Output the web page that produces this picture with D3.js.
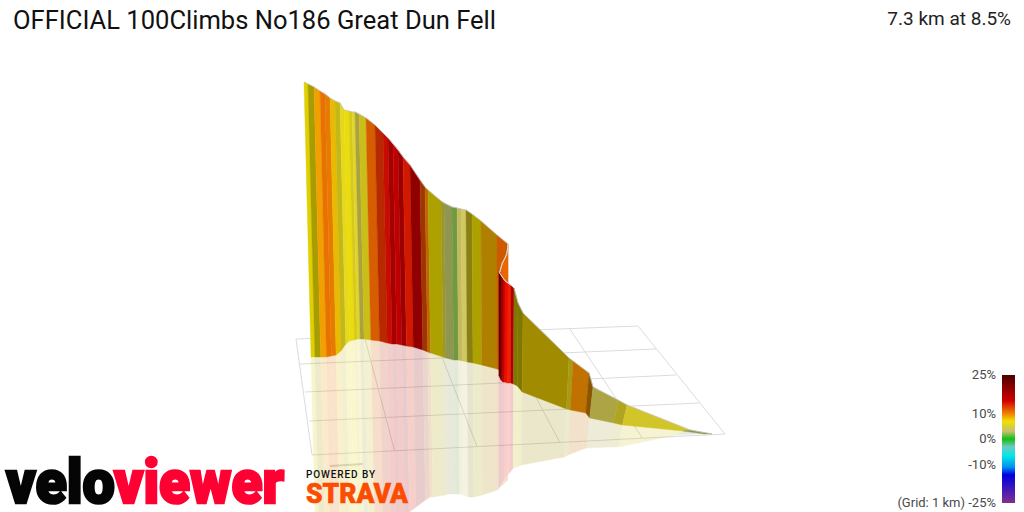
<!DOCTYPE html>
<html><head><meta charset="utf-8">
<script src="https://cdn.jsdelivr.net/npm/d3@7/dist/d3.min.js"></script>
<style>html,body{margin:0;padding:0;background:#fff;overflow:hidden}svg{display:block}text{font-family:Roboto,sans-serif}</style>
</head><body><svg id="c" width="1024" height="512"></svg>
<script>
const titleText = "OFFICIAL 100Climbs No186 Great Dun Fell";
const summaryText = "7.3 km at 8.5%";
// projected distance along the climb (km on the picture plane)
const alongKm = [0,.08,.2,.32,.42,.52,.62,.72,.8,.9,.96,1.02,1.1,1.24,1.42,1.58,1.68,1.78,1.88,1.98,2.12,2.32,2.42,2.48,2.74,2.8,2.96,3.06,3.14,3.24,3.36,3.54,3.86,4.08,
  4.06,3.96,3.92,
  3.9,3.94,3.98,4.02,4.08,4.14,4.2,
  4.28,4.38,5.3,5.38,5.7,5.78,6.28,6.46,7.72,8.16];
// projected height of the road above the far end of the ground
const roadElev = [704,700,694,686,680,672,666,662,648,646,644,644,640,632,618,602,592,580,568,554,538,508,494,488,466,462,454,452,450,448,440,426,398,380,
  358,342,324,
  324,318,312,306,302,298,292,
  262,242,152,146,122,94,68,58,8,0];
const groundElev = [154,154,154,154,156,158,166,180,186,188,190,190,190,188,186,182,180,180,178,176,174,168,164,162,154,152,148,148,146,144,142,138,130,118,
  118,122,124,
  116,108,104,104,102,102,100,
  96,84,50,48,42,32,22,18,6,0];
const mirrorElev = [-330,-328,-324,-320,-316,-306,-274,-244,-220,-216,-212,-212,-206,-202,-194,-188,-182,-172,-166,-156,-146,-132,-126,-126,-122,-120,-120,-120,-122,-126,-126,-122,-112,-92,
  -94,-98,-100,
  -106,-100,-94,-88,-82,-76,-68,
  -66,-62,-46,-42,-30,-28,-26,-26,-2,0];
// gradient (%) of each segment between consecutive points
const segmentGradient = [7,7,9,10.5,10,8,6,6,6.5,6,5.5,4.2,6,11,13,14.5,16,15.5,16.5,14,17,12,10,7,5,2.7,2,3.5,3.5,5.8,7,8.5,11,
  11,11,11,15,15,15,15,14.5,14,15,
  7,7,7.5,6,9.6,9.5,4,5.5,5.5,2.5];
// lighting of each segment of the wall
const segmentLight = [.93,.7,1,.98,.96,.97,.85,1,1,.93,1,.8,.88,.92,.83,.95,.85,.95,.83,.98,.8,.7,.8,.72,.72,.78,.8,.95,1.02,.6,.72,.73,.88,
  1,1,1,.45,.45,.72,.95,1.1,1.15,.85,
  .53,.53,.67,.72,.8,.58,.82,.78,.93,.8];
const legendTicks = [25,10,0,-10,-25];
const legendTickLabels = ["25%","10%","0%","-10%","(Grid: 1 km) -25%"];
const gradientStops = [25,15,10,7,3,0,-3,-6.5,-11,-14,-25];
const gradientColors = ["#4a0000","#d00000","#f08000","#f0e000","#c8c070","#10c010","#70c8c0","#00e8e8","#0090f0","#0000e0","#803090"];
const gridRows = [0,1,2,3,4];
const gridCols = [0,1,2,3,4,5];

const svg = d3.select("#c");
const x = d3.scaleLinear().domain([0,8.16]).range([304,712]);
const y = d3.scaleLinear().domain([0,704]).range([434,82]);
const color = d3.scaleLinear().domain(gradientStops).range(gradientColors);
const legendY = d3.scaleLinear().domain([25,-25]).range([375,503]);

const vanishKm = 3.92, lean = .036, mirrorLean = .88;
const baseKm = k => k + (vanishKm-k)*lean;
const mirrorKm = k => baseKm(k) + (baseKm(k)-k)*mirrorLean;
function lit(g,s){ const c=d3.rgb(color(g)); return d3.rgb(Math.min(255,c.r*s),Math.min(255,c.g*s),Math.min(255,c.b*s)).formatHex(); }

// ground grid (1 km cells, seen in perspective)
const rowLeftX = d3.scaleLinear().domain(gridRows).range([296,300,305,309,312]);
const rowLeftY = d3.scaleLinear().domain(gridRows).range([339,364,392,421,455]);
const rowRightX = d3.scaleLinear().domain(gridRows).range([638,656,676,699,725]);
const rowRightY = d3.scaleLinear().domain(gridRows).range([326,349,375,403,434]);
const colT = d3.scaleLinear().domain([0,5]).range([0,1]);
const gridPt = (c,r)=>[rowLeftX(r)+(rowRightX(r)-rowLeftX(r))*colT(c), rowLeftY(r)+(rowRightY(r)-rowLeftY(r))*colT(c)];
const gridG = svg.append("g").attr("fill","none").attr("stroke","#dcdcdc").attr("stroke-width",1);
const gl = d3.line();
gridRows.forEach(r=>gridG.append("path").attr("d",gl([gridPt(0,r),gridPt(5,r)])));
gridCols.forEach(c=>gridG.append("path").attr("d",gl([gridPt(c,0),gridPt(c,4)])));
// faint echo of the grid below its front edge
svg.append("path").attr("d",gl([[x(.52),y(-64)],[x(1.18),y(-60)]])).attr("stroke","#d8d8d8").attr("stroke-width",2).attr("fill","none");

const segs = d3.range(segmentGradient.length);
const poly = d3.line();
// reflection on the ground
const mirrorG = svg.append("g").attr("opacity",.2);
mirrorG.selectAll("path").data(segs).join("path")
  .attr("d",i=>poly([
    [x(baseKm(alongKm[i])),y(groundElev[i])],[x(baseKm(alongKm[i+1])),y(groundElev[i+1])],
    [x(mirrorKm(alongKm[i+1])),y(mirrorElev[i+1])],[x(mirrorKm(alongKm[i])),y(mirrorElev[i])]])+"Z")
  .attr("fill",i=>lit(segmentGradient[i],segmentLight[i]<.6?.8:segmentLight[i]))
  .attr("stroke",i=>lit(segmentGradient[i],segmentLight[i]<.6?.8:segmentLight[i])).attr("stroke-width",.4);
// wall
svg.append("g").selectAll("path").data(segs).join("path")
  .attr("d",i=>poly([
    [x(alongKm[i]),y(roadElev[i])],[x(alongKm[i+1]),y(roadElev[i+1])],
    [x(baseKm(alongKm[i+1])),y(groundElev[i+1])],[x(baseKm(alongKm[i])),y(groundElev[i])]])+"Z")
  .attr("fill",i=>lit(segmentGradient[i],segmentLight[i]))
  .attr("stroke",i=>lit(segmentGradient[i],segmentLight[i])).attr("stroke-width",.4);
// road line along the top, whiter where it folds in front of the wall
const road = d3.line().x(k=>x(alongKm[k])).y(k=>y(roadElev[k])).curve(d3.curveBasis);
const roadStraight = d3.line().x(k=>x(alongKm[k])).y(k=>y(roadElev[k]));
svg.append("path").attr("d",roadStraight(d3.range(alongKm.length))).attr("fill","none").attr("stroke","#c4c4c4").attr("stroke-width",.8);
svg.append("path").attr("d",road(d3.range(33,44))).attr("fill","none").attr("stroke","#dedede").attr("stroke-width",1);

// texts
svg.append("text").attr("x",13).attr("y",28.5).attr("font-size",25).attr("fill","#111").attr("textLength",483).attr("lengthAdjust","spacingAndGlyphs").text(titleText);
svg.append("text").attr("x",1011).attr("y",25).attr("text-anchor","end").attr("font-size",19).attr("fill","#222").text(summaryText);

// legend
const defs = svg.append("defs");
const lg = defs.append("linearGradient").attr("id","lg").attr("x1",0).attr("x2",0).attr("y1",0).attr("y2",1);
gradientStops.forEach((g,i)=>lg.append("stop").attr("offset",(25-g)/50).attr("stop-color",gradientColors[i]));
svg.append("rect").attr("x",1002).attr("width",13).attr("y",legendY(25)).attr("height",legendY(-25)-legendY(25)).attr("fill","url(#lg)");
svg.append("g").selectAll("text").data(legendTicks).join("text")
  .attr("x",996).attr("y",d=>legendY(d)-.5).attr("dy","0.36em").attr("text-anchor","end").attr("font-size",13).attr("fill","#4a4a4a")
  .text((d,i)=>legendTickLabels[i]);

// logos
const logo = svg.append("g").style("font-family","Lato,sans-serif").attr("font-weight",900);
logo.append("text").attr("x",6).attr("y",502.5).attr("font-size",62).attr("textLength",109).attr("lengthAdjust","spacingAndGlyphs")
  .attr("fill","#050505").attr("stroke","#050505").attr("stroke-width",2.6).text("velo");
logo.append("text").attr("x",114).attr("y",502.5).attr("font-size",62).attr("textLength",170).attr("lengthAdjust","spacingAndGlyphs")
  .attr("fill","#ff0033").attr("stroke","#ff0033").attr("stroke-width",2.6).text("viewer");
svg.append("text").attr("x",306).attr("y",477.5).attr("font-size",10).attr("font-weight",500).attr("fill","#111").attr("textLength",69).text("POWERED BY");
logo.append("text").attr("x",306).attr("y",503).attr("font-size",28).attr("textLength",102).attr("lengthAdjust","spacingAndGlyphs")
  .attr("fill","#fc4c02").attr("stroke","#fc4c02").attr("stroke-width",.6).text("STRAVA");
</script></body></html>
